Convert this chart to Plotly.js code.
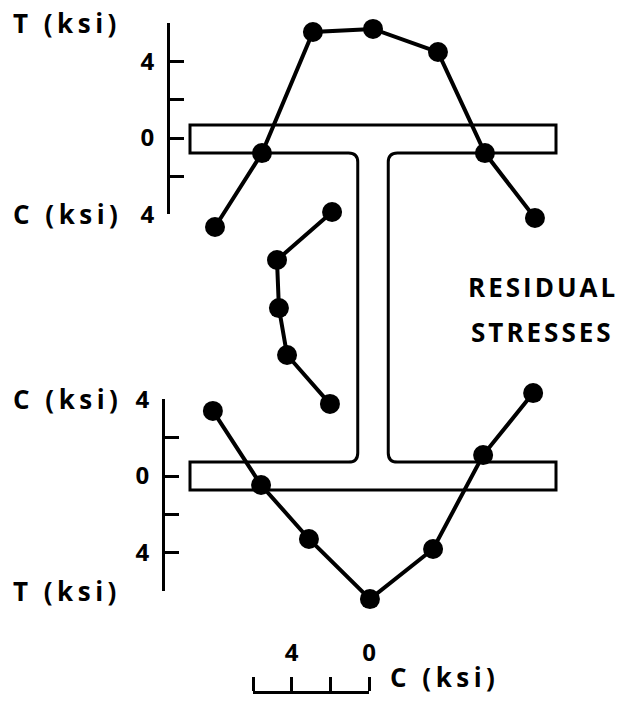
<!DOCTYPE html>
<html>
<head>
<meta charset="utf-8">
<script src="https://cdn.plot.ly/plotly-3.0.1.min.js"></script>
<style>
  html, body { margin: 0; padding: 0; background: #fff; }
  #chart { width: 631px; height: 703px; }
  .annotation-text { letter-spacing: 3px; }
</style>
</head>
<body>
<div id="chart"></div>
<script>
// Measurement stations across the flange width (in, from the web centreline)
const topFlangePos = [-5.18, -3.64, -1.97, 0.0, 2.13, 3.67, 5.31];
// Top flange residual stress (ksi, tension positive)
const topFlangeStress = [-4.66, -0.79, 5.55, 5.71, 4.50, -0.79, -4.19];

const bottomFlangePos = [-5.25, -3.67, -2.10, -0.10, 1.97, 3.61, 5.25];
// Bottom flange residual stress (ksi, compression positive)
const bottomFlangeStress = [3.39, -0.47, -3.28, -6.41, -3.80, 1.09, 4.32];

// Web stations along the depth (in, from mid-depth) and compressive stress (ksi)
const webPos = [3.14, 1.56, -0.02, -1.56, -3.17];
const webStress = [1.91, 4.76, 4.66, 4.24, 2.02];

// Stress scales and their labels
const topScaleTicks = [-4, -2, 0, 2, 4, 6];
const topScaleLabels = ['4', '', '0', '', '4', ''];
const bottomScaleTicks = [4, 2, 0, -2, -4, -6];
const bottomScaleLabels = ['4', '', '0', '', '4', ''];
const webScaleTicks = [6, 4, 2, 0];
const webScaleLabels = ['', '4', '', '0'];

// Section outline (in): flange width, depth, flange and web thickness, fillet radius
const BF = 12, D = 12, TF = 0.92, TW = 1.0, RF = 0.3;

// ---- page geometry ----
const W = 631, H = 703;
const px = c => c / W;          // paper x from a pixel column
const py = r => 1 - r / H;      // paper y from a pixel row

// Linear x axis: value 0 at column z, k px per unit, spanning columns c0..c1
function xLinear(z, k, c0, c1) {
  return { domain: [px(c0), px(c1)], range: [(c0 - z) / k, (c1 - z) / k] };
}
// Linear y axis (values grow upward): value 0 at row z, k px per unit, rows r0 (top)..r1 (bottom)
function yLinear(z, k, r0, r1) {
  return { domain: [py(r1), py(r0)], range: [(z - r1) / k, (z - r0) / k] };
}
// Same, but the span is given by the end values of the scale
function yScale(z, k, vTop, vBottom) {
  return yLinear(z, k, z - vTop * k, z - vBottom * k);
}

const hidden = { visible: false, fixedrange: true, showgrid: false, zeroline: false };
const tickFont = { family: 'Open Sans', size: 24, weight: 700, color: '#000' };
const scaleStyle = {
  showline: true, linewidth: 3, linecolor: '#000',
  ticks: 'inside', ticklen: 14, tickwidth: 3, tickcolor: '#000',
  tickmode: 'array', showgrid: false, zeroline: false, fixedrange: true,
  tickfont: tickFont, ticklabelstandoff: 8, anchor: 'free', side: 'left'
};

// Scale constants (px per unit) for section and stress plots
const SEC_K_X = 30.5, SEC_K_Y = 30.42;
const TOP_ZERO = 138, TOP_K = 19.1;
const BOT_ZERO = 476, BOT_K = 19.2;
const WEB_ZERO = 369, WEB_K = 19.33;

// I-section outline path, in section inches
function sectionPath() {
  const h = D / 2, b = BF / 2, w = TW / 2;
  const yt = h - TF, yb = -h + TF;
  return [
    `M ${-b},${h}`, `L ${b},${h}`, `L ${b},${yt}`, `L ${w + RF},${yt}`,
    `Q ${w},${yt} ${w},${yt - RF}`, `L ${w},${yb + RF}`,
    `Q ${w},${yb} ${w + RF},${yb}`, `L ${b},${yb}`, `L ${b},${-h}`,
    `L ${-b},${-h}`, `L ${-b},${yb}`, `L ${-w - RF},${yb}`,
    `Q ${-w},${yb} ${-w},${yb + RF}`, `L ${-w},${yt - RF}`,
    `Q ${-w},${yt} ${-w - RF},${yt}`, `L ${-b},${yt}`, 'Z'
  ].join(' ');
}

const lineStyle = { color: '#000', width: 4 };
const markerStyle = { color: '#000', size: 20 };

const traces = [
  { type: 'scatter', mode: 'lines+markers', x: topFlangePos, y: topFlangeStress,
    xaxis: 'x', yaxis: 'y', line: lineStyle, marker: markerStyle, cliponaxis: false,
    name: 'Top flange', hoverinfo: 'x+y' },
  { type: 'scatter', mode: 'lines+markers', x: bottomFlangePos, y: bottomFlangeStress,
    xaxis: 'x', yaxis: 'y2', line: lineStyle, marker: markerStyle, cliponaxis: false,
    name: 'Bottom flange', hoverinfo: 'x+y' },
  { type: 'scatter', mode: 'lines+markers', x: webStress, y: webPos,
    xaxis: 'x2', yaxis: 'y3', line: lineStyle, marker: markerStyle, cliponaxis: false,
    name: 'Web', hoverinfo: 'x+y' }
];

const labelFont = { family: 'Open Sans', size: 26, weight: 700, color: '#000' };
// wide-spaced unit labels
const unit = s => `<span style="letter-spacing:4.5px">${s}</span>`;
function note(text, x, xanchor, yref, y) {
  return { text, xref: 'paper', x, xanchor, yref, y, yanchor: 'middle',
           showarrow: false, font: labelFont, borderpad: 0 };
}

const layout = {
  width: W, height: H,
  margin: { l: 0, r: 0, t: 0, b: 0 },
  paper_bgcolor: '#fff', plot_bgcolor: 'rgba(0,0,0,0)',
  showlegend: false,
  // flange stations across the width
  xaxis: Object.assign({}, hidden, xLinear(373, SEC_K_X, 170, 580)),
  // top / bottom flange stress, section depth
  yaxis: Object.assign({}, hidden, yLinear(TOP_ZERO, TOP_K, 0, 262)),
  yaxis2: Object.assign({}, hidden, yLinear(BOT_ZERO, BOT_K, 370, 625)),
  yaxis3: Object.assign({}, hidden, yLinear(307.5, SEC_K_Y, 110, 505)),
  // web stress scale under the section
  xaxis2: Object.assign({}, scaleStyle, {
    domain: [px(WEB_ZERO - 6 * WEB_K), px(WEB_ZERO)], range: [6, 0],
    side: 'top', ticks: 'outside', position: py(692),
    tickvals: webScaleTicks, ticktext: webScaleLabels, ticklabelstandoff: 6
  }),
  // flange stress scales at the left
  yaxis4: Object.assign({}, scaleStyle, yScale(TOP_ZERO, TOP_K, 6, -4), {
    position: px(168), tickvals: topScaleTicks, ticktext: topScaleLabels
  }),
  yaxis5: Object.assign({}, scaleStyle, yScale(BOT_ZERO, BOT_K, 4, -6), {
    position: px(163), tickvals: bottomScaleTicks, ticktext: bottomScaleLabels
  }),
  shapes: [
    { type: 'path', xref: 'x', yref: 'y3', path: sectionPath(), layer: 'below',
      line: { color: '#000', width: 3 }, fillcolor: 'rgba(0,0,0,0)' }
  ],
  annotations: [
    note(unit('T (ksi)'), px(12), 'left', 'y4', 6),
    note(unit('C (ksi)'), px(12), 'left', 'y4', -4),
    note(unit('C (ksi)'), px(12), 'left', 'y5', 4),
    note(unit('T (ksi)'), px(12), 'left', 'y5', -6),
    note(unit('C (ksi)'), px(389), 'left', 'paper', py(677)),
    note('RESIDUAL', px(543), 'center', 'paper', py(287)),
    note('STRESSES', px(542), 'center', 'paper', py(331.5))
  ]
};

Plotly.newPlot('chart', traces, layout, { staticPlot: true, displayModeBar: false });
</script>
</body>
</html>
